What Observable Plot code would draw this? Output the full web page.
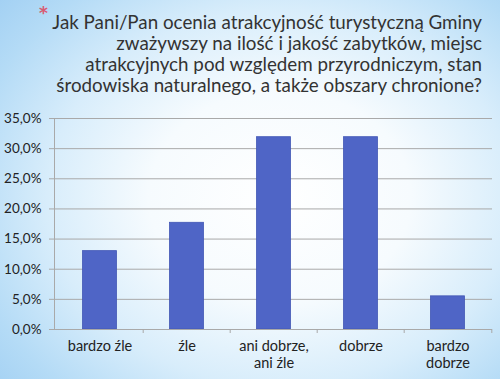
<!DOCTYPE html>
<html><head><meta charset="utf-8">
<script src="https://cdn.jsdelivr.net/npm/d3@7"></script>
<script src="https://cdn.jsdelivr.net/npm/@observablehq/plot@0.6"></script>
<style>
html,body{margin:0;padding:0;}
body{width:500px;height:379px;overflow:hidden;position:relative;
  background: radial-gradient(ellipse 75% 80% at 56% 52%, #ffffff 0%, #f6fbfe 35%, #d8edfb 62%, #b4dbf6 85%, #a2d0f3 100%);}
#title{position:absolute;left:0;top:0;width:482px;height:100px;text-align:right;font-family:Lato, sans-serif;font-size:18.8px;line-height:21px;color:#333;padding-top:11px;box-sizing:border-box;}
#star{position:absolute;left:39px;top:3px;color:#d95a72;font-family:"DejaVu Sans", sans-serif;font-size:17px;font-weight:bold;}
#chart{position:absolute;left:0;top:100px;}
</style>
</head><body>
<div id="star">*</div>
<div id="title">Jak Pani/Pan ocenia atrakcyjność turystyczną Gminy<br>zważywszy na ilość i jakość zabytków, miejsc<br>atrakcyjnych pod względem przyrodniczym, stan<br>środowiska naturalnego, a także obszary chronione?</div>
<div id="chart"></div>
<script>
const categories = ["bardzo źle", "źle", "ani dobrze,\nani źle", "dobrze", "bardzo\ndobrze"];
const values = [13.0, 17.7, 31.9, 31.9, 5.5];
const yTicks = [0, 5, 10, 15, 20, 25, 30, 35];

const data = categories.map((c, i) => ({category: c, value: values[i]}));
const fmt = d => d.toFixed(1).replace(".", ",") + "%";

const chart = Plot.plot({
  width: 500,
  height: 279,
  marginTop: 18,
  marginBottom: 50,
  marginLeft: 54,
  marginRight: 8,
  style: {background: "transparent", fontFamily: "Lato, sans-serif", color: "#222"},
  x: {domain: categories, padding: 0},
  y: {domain: [0, 35]},
  marks: [
    Plot.gridY(yTicks, {stroke: "#a9a9a9", strokeOpacity: 1}),
    Plot.axisY(yTicks, {tickFormat: fmt, tickSize: 5, tickPadding: 8, fontSize: 13.5, stroke: "#a9a9a9", label: null}),
    Plot.barY(data, {x: "category", y: "value", fill: "#4f65c6", stroke: "#4257b5", strokeWidth: 0.8, insetLeft: 26.5, insetRight: 26.5}),
    Plot.frame({anchor: "left", stroke: "#a9a9a9"}),
    Plot.ruleY([0], {stroke: "#a9a9a9"}),
    Plot.ruleX(categories.slice(1), {x: d => d, y1: 0, y2: 0, dx: -43.8, insetBottom: -4, stroke: "#a9a9a9"}),
    Plot.ruleX(categories.slice(-1), {x: d => d, y1: 0, y2: 0, dx: 43.8, insetBottom: -4, stroke: "#a9a9a9"}),
    Plot.axisX({tickSize: 0, tickPadding: 10, fontSize: 14.5, lineHeight: 1.15, label: null})
  ]
});
document.getElementById("chart").appendChild(chart);
</script>
</body></html>
